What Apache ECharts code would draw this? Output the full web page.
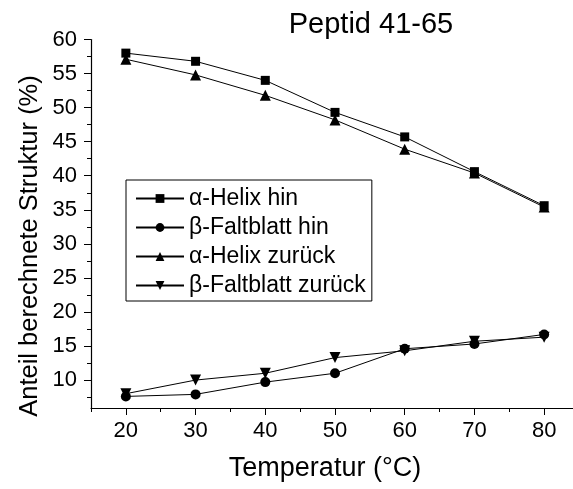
<!DOCTYPE html>
<html>
<head>
<meta charset="utf-8">
<script src="https://cdn.jsdelivr.net/npm/echarts@6/dist/echarts.min.js"></script>
<style>
  html, body { margin: 0; padding: 0; background: #fff; }
  #chart { width: 573px; height: 489px; }
</style>
</head>
<body>
<div id="chart"></div>
<script>
// Secondary structure content of peptide 41-65 vs. temperature (heating "hin", cooling "zurück")
const temperatures = [20, 30, 40, 50, 60, 70, 80];
const helixHin = [58.0, 56.8, 54.0, 49.3, 45.7, 40.6, 35.6];
const faltblattHin = [7.6, 7.9, 9.7, 11.0, 14.6, 15.3, 16.7];
const helixZurueck = [57.1, 54.8, 51.8, 48.2, 43.9, 40.4, 35.4];
const faltblattZurueck = [8.0, 10.0, 11.0, 13.3, 14.3, 15.7, 16.3];

const seriesNames = ['α-Helix hin', 'β-Faltblatt hin', 'α-Helix zurück', 'β-Faltblatt zurück'];

const xTickLabels = [20, 30, 40, 50, 60, 70, 80];
const xMinorTicks = [15, 25, 35, 45, 55, 65, 75];
const yTickLabels = [10, 15, 20, 25, 30, 35, 40, 45, 50, 55, 60];
const yMinorTicks = [7.5, 12.5, 17.5, 22.5, 27.5, 32.5, 37.5, 42.5, 47.5, 52.5, 57.5];

const FONT = "'Liberation Sans', Arial, sans-serif";
const X_MIN = 15, X_MAX = 85, Y_MIN = 5.9, Y_MAX = 60;

const pairs = vals => temperatures.map((t, i) => [t, vals[i]]);
const downTriangle = 'path://M0,0 L10,0 L5,9 Z';

function lineSeries(name, vals, symbol, size) {
  return {
    name: name,
    type: 'line',
    xAxisIndex: 0,
    yAxisIndex: 0,
    data: pairs(vals),
    symbol: symbol,
    symbolSize: size,
    showAllSymbol: true,
    lineStyle: { color: '#000', width: 1 },
    itemStyle: { color: '#000', borderWidth: 0 },
    emphasis: { disabled: true },
    animation: false
  };
}

const baseX = {
  type: 'value', min: X_MIN, max: X_MAX, position: 'bottom', offset: 0,
  axisLine: { onZero: false },
  splitLine: { show: false }
};
const baseY = {
  type: 'value', min: Y_MIN, max: Y_MAX, position: 'left', offset: 0,
  axisLine: { onZero: false },
  splitLine: { show: false }
};

const chart = echarts.init(document.getElementById('chart'), null, { renderer: 'canvas' });
chart.setOption({
  backgroundColor: '#fff',
  animation: false,
  grid: { left: 91, top: 39.5, width: 488, height: 368.5, outerBoundsMode: 'none', containLabel: false },
  xAxis: [
    Object.assign({}, baseX, {
      axisLine: { show: true, onZero: false, lineStyle: { color: '#000', width: 1.2 } },
      axisTick: { show: true, length: 7, lineStyle: { color: '#000', width: 1 }, customValues: xTickLabels },
      axisLabel: { show: true, margin: 12, color: '#000', fontSize: 22, fontFamily: FONT, customValues: xTickLabels }
    }),
    Object.assign({}, baseX, {
      axisLine: { show: false, onZero: false },
      axisTick: { show: true, length: 4, lineStyle: { color: '#000', width: 1 }, customValues: xMinorTicks },
      axisLabel: { show: false }
    })
  ],
  yAxis: [
    Object.assign({}, baseY, {
      axisLine: { show: true, onZero: false, lineStyle: { color: '#000', width: 1.2 } },
      axisTick: { show: true, length: 7, lineStyle: { color: '#000', width: 1 }, customValues: yTickLabels },
      axisLabel: { show: true, margin: 14, color: '#000', fontSize: 22, fontFamily: FONT, customValues: yTickLabels }
    }),
    Object.assign({}, baseY, {
      axisLine: { show: false, onZero: false },
      axisTick: { show: true, length: 4, lineStyle: { color: '#000', width: 1 }, customValues: yMinorTicks },
      axisLabel: { show: false }
    })
  ],
  legend: {
    orient: 'vertical',
    left: 126, top: 180,
    data: seriesNames,
    itemWidth: 48, itemHeight: 11, itemGap: 6,
    padding: [7, 6, 4, 9],
    borderColor: '#000', borderWidth: 1,
    textStyle: { color: '#000', fontSize: 23, fontFamily: FONT, lineHeight: 23 },
    selectedMode: false
  },
  graphic: [
    {
      type: 'text', x: 371, y: 25,
      style: { text: 'Peptid 41-65', fill: '#000', fontSize: 29, fontFamily: FONT, align: 'center', verticalAlign: 'middle' }
    },
    {
      type: 'text', x: 325, y: 469,
      style: { text: 'Temperatur (°C)', fill: '#000', fontSize: 27, fontFamily: FONT, align: 'center', verticalAlign: 'middle' }
    },
    {
      type: 'text', x: 30, y: 246, rotation: Math.PI / 2,
      style: { text: 'Anteil berechnete Struktur (%)', fill: '#000', fontSize: 25.5, fontFamily: FONT, align: 'center', verticalAlign: 'middle' }
    }
  ],
  series: [
    lineSeries(seriesNames[0], helixHin, 'rect', 9),
    lineSeries(seriesNames[1], faltblattHin, 'circle', 10),
    lineSeries(seriesNames[2], helixZurueck, 'triangle', 11),
    lineSeries(seriesNames[3], faltblattZurueck, downTriangle, 11)
  ]
});
</script>
</body>
</html>
